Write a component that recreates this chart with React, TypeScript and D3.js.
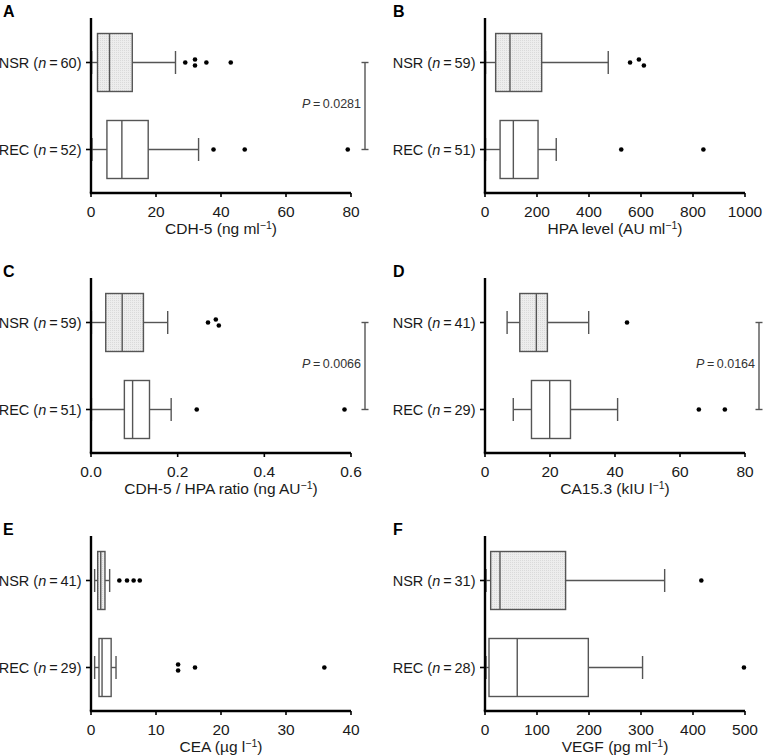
import React from "react";
import * as d3 from "d3";

// ---------- data ----------
const panelLetters = ["A", "B", "C", "D", "E", "F"];
const groupNames = ["NSR", "REC"];
const groupCounts = [
  [60, 52],
  [59, 51],
  [59, 51],
  [41, 29],
  [41, 29],
  [31, 28],
];
const axisTitles = [
  { main: "CDH-5 (ng ml", sup: "\u22121", tail: ")" },
  { main: "HPA level (AU ml", sup: "\u22121", tail: ")" },
  { main: "CDH-5 / HPA ratio (ng AU", sup: "\u22121", tail: ")" },
  { main: "CA15.3 (kIU l", sup: "\u22121", tail: ")" },
  { main: "CEA (\u00b5g l", sup: "\u22121", tail: ")" },
  { main: "VEGF (pg ml", sup: "\u22121", tail: ")" },
];
const axisMax = [80, 1000, 0.6, 80, 40, 500];
const tickValues = [
  [0, 20, 40, 60, 80],
  [0, 200, 400, 600, 800, 1000],
  [0, 0.2, 0.4, 0.6],
  [0, 20, 40, 60, 80],
  [0, 10, 20, 30, 40],
  [0, 100, 200, 300, 400, 500],
];
const tickFormats = ["d", "d", ".1f", "d", "d", "d"];

// [whiskerLow, Q1, median, Q3, whiskerHigh] for NSR and REC
const nsrStats = [
  [0.2, 2.0, 5.7, 12.7, 26],
  [2, 41, 96, 218, 474],
  [0.001, 0.034, 0.072, 0.121, 0.177],
  [6.8, 10.7, 15.8, 19.2, 31.9],
  [0.56, 1.03, 1.5, 2.15, 2.87],
  [2, 10.9, 28.8, 155, 345.5],
];
const recStats = [
  [0.3, 4.9, 9.5, 17.6, 33.1],
  [2, 58, 109, 204, 274],
  [0.001, 0.077, 0.096, 0.135, 0.185],
  [8.7, 14.3, 19.9, 26.3, 40.8],
  [0.56, 1.23, 1.7, 3.1, 3.85],
  [1.9, 7.7, 62, 198.7, 303],
];
const nsrOutliers = [
  [29, 32, 32, 35.5, 43],
  [558, 592, 611],
  [0.27, 0.288, 0.295],
  [43.7],
  [4.36, 5.54, 6.56, 7.5],
  [416],
];
const recOutliers = [
  [37.7, 47.3, 79],
  [524, 840],
  [0.244, 0.585],
  [65.8, 73.8],
  [13.4, 13.4, 16, 35.9],
  [498],
];
const pValues = ["0.0281", null, "0.0066", "0.0164", null, null];

// ---------- layout ----------
const W = 763;
const H = 755;
const colX0 = [91, 485];
const rowTop = [18, 278, 536];
const plotW = 260;
const plotH = 175;
const rowOffsets = [44.5, 131.5];
const boxHalf = 29;
const capHalf = 11.5;
const FONT = "'Liberation Sans', Arial, Helvetica, sans-serif";
const BOX_STROKE = "#555";
const TEXT = "#1a1a1a";

function placeOutliers(values: number[], x: (v: number) => number) {
  const sorted = [...values].sort((a, b) => a - b);
  const out: { v: number; dy: number }[] = [];
  let i = 0;
  while (i < sorted.length) {
    const cluster = [sorted[i]];
    let j = i + 1;
    while (j < sorted.length && x(sorted[j]) - x(sorted[j - 1]) < 5.5) {
      cluster.push(sorted[j]);
      j++;
    }
    if (cluster.length === 1) out.push({ v: cluster[0], dy: 0 });
    else
      cluster.forEach((v, k) =>
        out.push({ v, dy: (k - (cluster.length - 1) / 2) * 6 })
      );
    i = j;
  }
  return out;
}

function Panel({ idx }: { idx: number }) {
  const col = idx % 2;
  const row = Math.floor(idx / 2);
  const x0 = colX0[col];
  const top = rowTop[row];
  const bottom = top + plotH;
  const x = d3.scaleLinear().domain([0, axisMax[idx]]).range([x0, x0 + plotW]);
  const fmt = d3.format(tickFormats[idx]);
  const stats = [nsrStats[idx], recStats[idx]];
  const outl = [nsrOutliers[idx], recOutliers[idx]];
  const bracketX = x0 + 274;
  const yRows = rowOffsets.map((o) => top + o);
  const t = axisTitles[idx];
  return (
    <g>
      <text
        x={col === 0 ? 3 : 393}
        y={top - 1}
        fontFamily={FONT}
        fontWeight="bold"
        fontSize={16}
        fill="#000"
      >
        {panelLetters[idx]}
      </text>
      {/* boxes */}
      {stats.map((s, g) => {
        const cy = yRows[g];
        const [wl, q1, med, q3, wh] = s;
        return (
          <g key={g} stroke={BOX_STROKE} strokeWidth={1.4} fill="none">
            <line x1={x(wl)} x2={x(q1)} y1={cy} y2={cy} />
            <line x1={x(q3)} x2={x(wh)} y1={cy} y2={cy} />
            <line x1={x(wl)} x2={x(wl)} y1={cy - capHalf} y2={cy + capHalf} />
            <line x1={x(wh)} x2={x(wh)} y1={cy - capHalf} y2={cy + capHalf} />
            <rect
              x={x(q1)}
              y={cy - boxHalf}
              width={x(q3) - x(q1)}
              height={boxHalf * 2}
              fill={g === 0 ? "url(#stipple)" : "#fff"}
            />
            <line x1={x(med)} x2={x(med)} y1={cy - boxHalf} y2={cy + boxHalf} />
          </g>
        );
      })}
      {/* outliers */}
      {outl.map((vals, g) =>
        placeOutliers(vals, x).map((p, k) => (
          <circle
            key={g + "-" + k}
            cx={x(p.v)}
            cy={yRows[g] + p.dy}
            r={2.3}
            fill="#000"
          />
        ))
      )}
      {/* y axis */}
      <line x1={x0} x2={x0} y1={top} y2={bottom} stroke="#000" strokeWidth={2.4} />
      {yRows.map((cy, g) => (
        <g key={g}>
          <line x1={x0 - 5} x2={x0} y1={cy} y2={cy} stroke="#000" strokeWidth={1.6} />
          <text
            x={x0 - 9.5}
            y={cy}
            dy="0.36em"
            textAnchor="end"
            fontFamily={FONT}
            fontSize={14.5}
            fill={TEXT}
          >
            {groupNames[g]} (<tspan fontStyle="italic">n</tspan>
            {"\u2009=\u2009" + groupCounts[idx][g]})
          </text>
        </g>
      ))}
      {/* x axis */}
      <line x1={x0 - 1.2} x2={x0 + plotW} y1={bottom} y2={bottom} stroke="#000" strokeWidth={2.4} />
      {tickValues[idx].map((v) => (
        <g key={v}>
          <line x1={x(v)} x2={x(v)} y1={bottom} y2={bottom + 4} stroke="#000" strokeWidth={1.6} />
          <text
            x={x(v)}
            y={bottom + 24}
            textAnchor="middle"
            fontFamily={FONT}
            fontSize={15.5}
            fill={TEXT}
          >
            {fmt(v)}
          </text>
        </g>
      ))}
      <text
        x={x0 + plotW / 2}
        y={bottom + 41}
        textAnchor="middle"
        fontFamily={FONT}
        fontSize={15.5}
        fill={TEXT}
      >
        {t.main}
        <tspan fontSize={10.5} dy={-5.5}>
          {t.sup}
        </tspan>
        <tspan dy={5.5}>{t.tail}</tspan>
      </text>
      {/* p-value bracket */}
      {pValues[idx] && (
        <g>
          <g stroke="#555" strokeWidth={1.4}>
            <line x1={bracketX} x2={bracketX} y1={yRows[0]} y2={yRows[1]} />
            <line x1={bracketX - 3.5} x2={bracketX + 3.5} y1={yRows[0]} y2={yRows[0]} />
            <line x1={bracketX - 3.5} x2={bracketX + 3.5} y1={yRows[1]} y2={yRows[1]} />
          </g>
          <text
            x={bracketX - 4}
            y={(yRows[0] + yRows[1]) / 2 - 3}
            dy="0.36em"
            textAnchor="end"
            fontFamily={FONT}
            fontSize={12.5}
            fill="#333"
          >
            <tspan fontStyle="italic">P</tspan>
            {"\u2009=\u2009" + pValues[idx]}
          </text>
        </g>
      )}
    </g>
  );
}

export default function App() {
  return (
    <svg
      width={W}
      height={H}
      viewBox={`0 0 ${W} ${H}`}
      style={{ position: "absolute", left: 0, top: 0, background: "#fff" }}
    >
      <defs>
        <pattern id="stipple" width={2} height={2} patternUnits="userSpaceOnUse">
          <rect width={2} height={2} fill="#ededed" />
          <rect width={1} height={1} fill="#dadada" />
        </pattern>
      </defs>
      <rect width={W} height={H} fill="#fff" />
      {panelLetters.map((_, i) => (
        <Panel key={i} idx={i} />
      ))}
    </svg>
  );
}
